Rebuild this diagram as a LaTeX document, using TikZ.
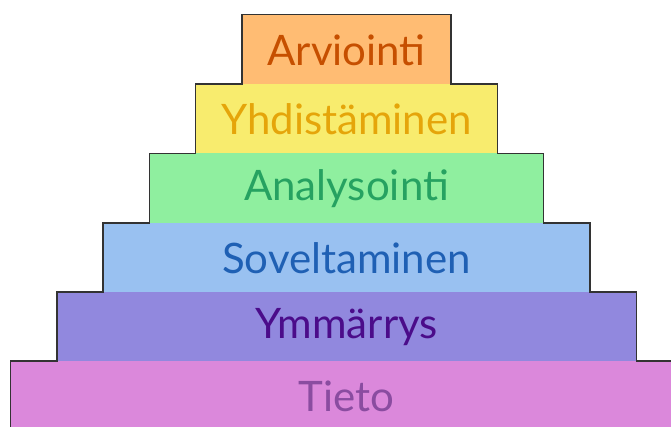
\documentclass[tikz,border=0pt]{standalone}
\usepackage{fontspec}
\setmainfont{Lato}
\definecolor{fA}{HTML}{FFBC73}\definecolor{tA}{HTML}{C64F00}
\definecolor{fB}{HTML}{F8EC6E}\definecolor{tB}{HTML}{E5A50A}
\definecolor{fC}{HTML}{8FEF9F}\definecolor{tC}{HTML}{26A261}
\definecolor{fD}{HTML}{99C1F1}\definecolor{tD}{HTML}{1F60B4}
\definecolor{fE}{HTML}{9188DE}\definecolor{tE}{HTML}{4B0C8A}
\definecolor{fF}{HTML}{DB88DB}\definecolor{tF}{HTML}{8A4CA0}
\definecolor{edge}{HTML}{333333}
\tikzset{lbl/.style={font=\fontsize{42}{48}\selectfont, inner sep=0pt, anchor=center}}
\begin{document}
\begin{tikzpicture}[x=1pt,y=-1pt]
\useasboundingbox (0,0) rectangle (671,427);
% layers
\fill[fA] (242,14.5) rectangle (451,84);
\fill[fB] (195.7,84) rectangle (497.3,153.5);
\fill[fC] (149.4,153.5) rectangle (543.6,223);
\fill[fD] (103.1,223) rectangle (589.9,292);
\fill[fE] (56.8,292) rectangle (636.2,361);
\fill[fF] (10.5,361) rectangle (682.5,432);
% outline
\draw[edge, line width=1.4pt, line join=miter]
  (10.5,432) -- (10.5,361) -- (56.8,361) -- (56.8,292) -- (103.1,292) -- (103.1,223)
  -- (149.4,223) -- (149.4,153.5) -- (195.7,153.5) -- (195.7,84) -- (242,84) -- (242,14.5)
  -- (451,14.5) -- (451,84) -- (497.3,84) -- (497.3,153.5) -- (543.6,153.5) -- (543.6,223)
  -- (589.9,223) -- (589.9,292) -- (636.2,292) -- (636.2,361) -- (682.5,361);
% labels
\node[lbl, text=tA] (a) at (346.5,50) {Arviointi};
\node[lbl, text=tB] (b) at (346.5,119.5) {Yhdistäminen};
\node[lbl, text=tC] (c) at (346.5,189) {Analysointi};
\node[lbl, text=tD] (d) at (346.5,258) {Soveltaminen};
\node[lbl, text=tE] (e) at (346.5,327) {Ymmärrys};
\node[lbl, text=tF] (f) at (346.5,396) {Tieto};
\end{tikzpicture}
\end{document}
